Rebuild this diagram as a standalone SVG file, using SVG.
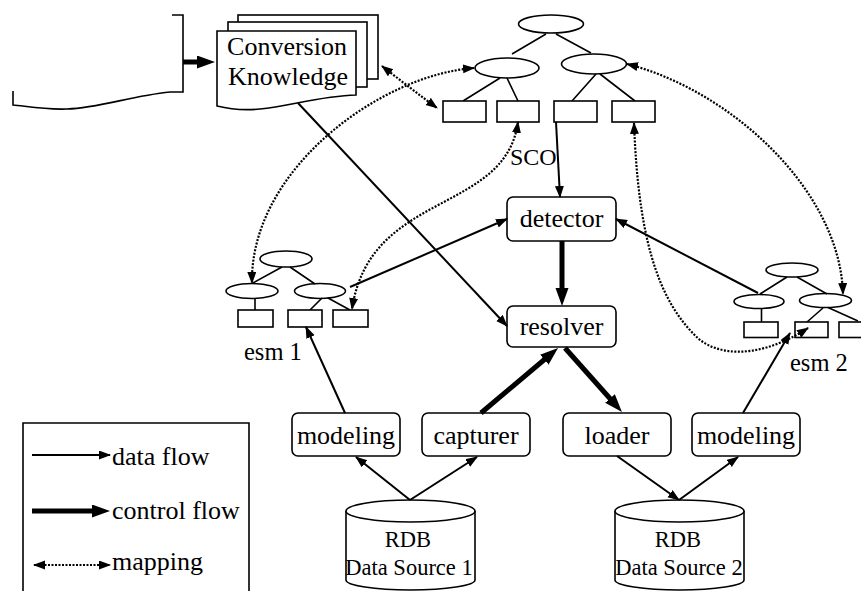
<svg xmlns="http://www.w3.org/2000/svg" width="861" height="591" viewBox="0 0 861 591">
<style>
text{font-family:"Liberation Serif","Times New Roman",serif;fill:#000}
.lbl{font-size:26px}
.mid{text-anchor:middle}
.shape{fill:#fff;stroke:#000;stroke-width:1.6}
.ln{fill:none;stroke:#000;stroke-width:1.6}
.data{fill:none;stroke:#000;stroke-width:2;marker-end:url(#ah)}
.ctrl{fill:none;stroke:#000;stroke-width:5;marker-end:url(#ahT)}
.map{fill:none;stroke:#000;stroke-width:2.2;stroke-dasharray:2 1.5;marker-start:url(#ahS);marker-end:url(#ah)}
</style>
<defs>
<marker id="ah" markerUnits="userSpaceOnUse" markerWidth="12" markerHeight="10" refX="11" refY="4.5" orient="auto"><path d="M0,0 L12,4.5 L0,9 z" fill="#000"/></marker>
<marker id="ahS" markerUnits="userSpaceOnUse" markerWidth="12" markerHeight="10" refX="11" refY="4.5" orient="auto-start-reverse"><path d="M0,0 L12,4.5 L0,9 z" fill="#000"/></marker>
<marker id="ahT" markerUnits="userSpaceOnUse" markerWidth="18" markerHeight="14" refX="8" refY="6.5" orient="auto"><path d="M0,0 L18,6.5 L0,13 z" fill="#000"/></marker>
</defs>
<rect width="861" height="591" fill="#fff"/>

<g id="source-doc">
<path class="ln" d="M172,15 H183 V92 H170 C130,96 100,108 67,109 C45,110 25,106 13,105 V91"/>
</g>

<g id="conversion-knowledge">
<rect class="shape" x="238" y="15" width="140" height="64"/>
<rect class="shape" x="228" y="22" width="139" height="65"/>
<path class="shape" d="M217,31 H356 V95 C320,96 290,106 260,109 C240,111 225,108 217,106 Z"/>
<text class="lbl mid" x="287" y="55">Conversion</text>
<text class="lbl mid" x="288" y="85">Knowledge</text>
</g>

<g id="sco">
<ellipse class="shape" cx="551" cy="24" rx="32.5" ry="9"/>
<ellipse class="shape" cx="507" cy="68" rx="32" ry="10"/>
<ellipse class="shape" cx="594" cy="64" rx="32.5" ry="10"/>
<path class="ln" d="M546,34 L512,54 M556,34 L591,53 M500,78 L463,101 M507,78 L518,101 M596,74 L572,101 M600,74 L635,101"/>
<rect class="shape" x="443" y="101" width="43" height="21"/>
<rect class="shape" x="497" y="101" width="42" height="21"/>
<rect class="shape" x="554" y="101" width="43" height="21"/>
<rect class="shape" x="612" y="101" width="43" height="21"/>
<text x="510" y="165" style="font-size:24px">SCO</text>
</g>

<g id="esm1">
<ellipse class="shape" cx="286" cy="259" rx="26" ry="8"/>
<ellipse class="shape" cx="252" cy="291" rx="26" ry="7.5"/>
<ellipse class="shape" cx="320" cy="291" rx="25.5" ry="7.5"/>
<path class="ln" d="M282,267 L253,283 M290,267 L315,284 M255,298.5 V310 M322,298 L310,310 M328,298 L350,310"/>
<rect class="shape" x="238" y="310" width="35" height="17"/>
<rect class="shape" x="288" y="310" width="34" height="17"/>
<rect class="shape" x="333" y="310" width="35" height="17"/>
<text x="244" y="360" style="font-size:24.5px">esm 1</text>
</g>

<g id="esm2">
<ellipse class="shape" cx="792" cy="270" rx="26" ry="7"/>
<ellipse class="shape" cx="759" cy="301.5" rx="25" ry="7"/>
<ellipse class="shape" cx="825.5" cy="300.5" rx="26" ry="7"/>
<path class="ln" d="M787,277 L760,294 M797,277 L827,294 M761.5,308.5 V322 M823,308 L807,322 M828,307.5 L858,321"/>
<rect class="shape" x="744" y="322" width="34" height="15.5"/>
<rect class="shape" x="795" y="322" width="33" height="15.5"/>
<rect class="shape" x="839" y="322" width="35" height="15.5"/>
<text x="790" y="371" style="font-size:24.5px">esm 2</text>
</g>

<g id="detector">
<rect class="shape" x="507" y="197" width="109" height="44" rx="6"/>
<text class="lbl mid" x="561.5" y="227">detector</text>
</g>
<g id="resolver">
<rect class="shape" x="507" y="306" width="109" height="41" rx="6"/>
<text class="lbl mid" x="561.5" y="335">resolver</text>
</g>

<g id="modeling1">
<rect class="shape" x="292" y="413" width="108" height="43" rx="6"/>
<text class="lbl mid" x="346" y="444">modeling</text>
</g>
<g id="capturer">
<rect class="shape" x="422" y="413" width="108" height="43" rx="6"/>
<text class="lbl mid" x="476" y="444">capturer</text>
</g>
<g id="loader">
<rect class="shape" x="563" y="413" width="108" height="43" rx="6"/>
<text class="lbl mid" x="617" y="444">loader</text>
</g>
<g id="modeling2">
<rect class="shape" x="692" y="413" width="108" height="43" rx="6"/>
<text class="lbl mid" x="746" y="444">modeling</text>
</g>

<g id="rdb1">
<path class="shape" d="M346,511 V580 A64.5,10 0 0 0 475,580 V511"/>
<ellipse class="shape" cx="410.5" cy="511" rx="64.5" ry="11"/>
<text class="mid" x="408" y="547" style="font-size:22.5px">RDB</text>
<text class="mid" x="409" y="575" style="font-size:22.5px">Data Source 1</text>
</g>
<g id="rdb2">
<path class="shape" d="M615,511 V580 A64.5,10 0 0 0 744,580 V511"/>
<ellipse class="shape" cx="679.5" cy="511" rx="64.5" ry="11"/>
<text class="mid" x="678" y="547" style="font-size:22.5px">RDB</text>
<text class="mid" x="679" y="575" style="font-size:22.5px">Data Source 2</text>
</g>

<g id="legend">
<path class="ln" d="M23,600 V423 H249 V600"/>
<path class="data" d="M32,455 H110"/>
<text class="lbl" x="112" y="465">data flow</text>
<path class="ctrl" d="M32,511 H100"/>
<text class="lbl" x="112" y="519">control flow</text>
<path class="map" d="M34,565 H110"/>
<text class="lbl" x="112" y="570">mapping</text>
</g>

<g id="connectors">
<path class="ctrl" d="M183,62 H205"/>
<path class="ctrl" d="M562,241 V296"/>
<path class="ctrl" d="M481,413 L550.4,354.5"/>
<path class="ctrl" d="M565,348 L615.3,404.5"/>
<path class="data" d="M556,122 L560,197"/>
<path class="data" d="M298,103 L507,326"/>
<path class="data" d="M350,287 L507,219"/>
<path class="data" d="M758,293 L616,219"/>
<path class="data" d="M345,413 L306,327"/>
<path class="data" d="M743,413 L790,333"/>
<path class="data" d="M410,500 L356,457"/>
<path class="data" d="M410,500 L477,457"/>
<path class="data" d="M617,456 L679,500"/>
<path class="data" d="M679,500 L738,457"/>
<path class="map" d="M382,66 Q410,88 437,108"/>
<path class="map" d="M474,68 C380,75 250,170 252,283"/>
<path class="map" d="M518,122 C505,215 370,190 352,309"/>
<path class="map" d="M627,64 C730,90 840,190 843,294"/>
<path class="map" d="M634,123 C638,230 655,300 700,340 C730,362 775,350 808,328"/>
</g>
</svg>
